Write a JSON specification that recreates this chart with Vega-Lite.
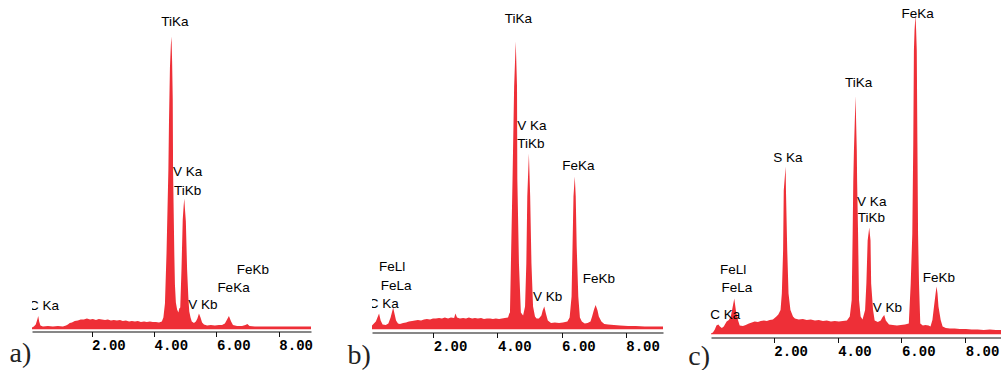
{
 "$schema": "https://vega.github.io/schema/vega-lite/v6.json",
 "padding": {"left": 9, "top": 5, "right": 0, "bottom": 0},
 "autosize": {"type": "pad"},
 "background": "white",
 "config": {
  "view": {"stroke": null},
  "axis": {"domainColor": "#111", "domainWidth": 1.2, "tickColor": "#111", "tickSize": 5, "tickWidth": 1,
   "labelFont": "Liberation Mono", "labelFontWeight": "bold", "labelFontSize": 14, "labelColor": "#000",
   "labelAlign": "left", "labelDx": -10.5, "labelBaseline": "alphabetic", "labelPadding": 13, "grid": false,
   "labelFlush": false, "labelOverlap": false,
   "titleFont": "Liberation Serif", "titleFontSize": 28, "titleFontWeight": "normal", "titleColor": "#222",
   "titleAlign": "left", "titleBaseline": "alphabetic", "titleAngle": 0},
  "text": {"font": "Liberation Sans", "fontSize": 13.5, "color": "#000", "align": "left", "baseline": "alphabetic"}
 },
 "datasets": {
  "a": [
   {"e":0.09,"c":2},{"e":0.15,"c":3},{"e":0.21,"c":5},{"e":0.26,"c":10},{"e":0.29,"c":13.5},{"e":0.32,"c":8},{"e":0.36,"c":4},{"e":0.44,"c":3},{"e":0.6,"c":3.5},{"e":0.76,"c":3},{"e":0.92,"c":3.5},{"e":1.08,"c":3},{"e":1.18,"c":4},{"e":1.24,"c":5},{"e":1.3,"c":6.5},{"e":1.37,"c":7},{"e":1.46,"c":8.5},{"e":1.56,"c":9},{"e":1.65,"c":10},{"e":1.75,"c":10},{"e":1.85,"c":11},{"e":1.95,"c":10},{"e":2.04,"c":10.5},{"e":2.14,"c":9.5},{"e":2.23,"c":10.5},{"e":2.33,"c":10},{"e":2.43,"c":9.5},{"e":2.52,"c":10},{"e":2.62,"c":9},{"e":2.71,"c":9.5},{"e":2.81,"c":9},{"e":2.91,"c":9.5},{"e":3.0,"c":8.5},{"e":3.1,"c":9},{"e":3.2,"c":8},{"e":3.29,"c":8.5},{"e":3.39,"c":8},{"e":3.48,"c":8.5},{"e":3.58,"c":7.5},{"e":3.68,"c":8},{"e":3.77,"c":7.5},{"e":3.87,"c":8},{"e":3.96,"c":7.5},{"e":4.06,"c":7.5},{"e":4.16,"c":7},{"e":4.25,"c":8},{"e":4.3,"c":12},{"e":4.35,"c":26},{"e":4.4,"c":76},{"e":4.46,"c":160},{"e":4.48,"c":209},{"e":4.51,"c":262},{"e":4.54,"c":285},{"e":4.56,"c":293},{"e":4.58,"c":268},{"e":4.6,"c":230},{"e":4.61,"c":160},{"e":4.65,"c":76},{"e":4.67,"c":45},{"e":4.7,"c":27},{"e":4.74,"c":20},{"e":4.78,"c":17},{"e":4.81,"c":21},{"e":4.84,"c":22},{"e":4.88,"c":60},{"e":4.92,"c":110},{"e":4.95,"c":124},{"e":4.97,"c":131},{"e":4.99,"c":121},{"e":5.02,"c":108},{"e":5.06,"c":60},{"e":5.1,"c":32},{"e":5.13,"c":18},{"e":5.17,"c":12},{"e":5.21,"c":8},{"e":5.28,"c":6.5},{"e":5.34,"c":8},{"e":5.39,"c":11},{"e":5.44,"c":16},{"e":5.49,"c":12},{"e":5.54,"c":7},{"e":5.6,"c":5},{"e":5.7,"c":4},{"e":5.82,"c":4.5},{"e":5.95,"c":4},{"e":6.08,"c":4.5},{"e":6.18,"c":4.5},{"e":6.27,"c":6},{"e":6.34,"c":10},{"e":6.4,"c":13.5},{"e":6.47,"c":8},{"e":6.53,"c":4.5},{"e":6.66,"c":3.5},{"e":6.82,"c":3.5},{"e":6.93,"c":4.5},{"e":6.99,"c":5.5},{"e":7.06,"c":3.5},{"e":7.23,"c":3},{"e":7.55,"c":3},{"e":7.88,"c":3},{"e":8.2,"c":3},{"e":8.52,"c":3},{"e":8.84,"c":3},{"e":9.03,"c":3}
  ],
  "b": [
   {"e":0.09,"c":4},{"e":0.15,"c":6},{"e":0.21,"c":8},{"e":0.26,"c":12},{"e":0.31,"c":16},{"e":0.36,"c":9},{"e":0.42,"c":5},{"e":0.52,"c":4.5},{"e":0.6,"c":6},{"e":0.67,"c":12},{"e":0.71,"c":17},{"e":0.75,"c":22},{"e":0.79,"c":16},{"e":0.84,"c":9},{"e":0.9,"c":6},{"e":0.96,"c":5.5},{"e":1.06,"c":6.5},{"e":1.15,"c":7},{"e":1.24,"c":8},{"e":1.34,"c":8.5},{"e":1.43,"c":9},{"e":1.52,"c":9.5},{"e":1.62,"c":9},{"e":1.71,"c":10},{"e":1.8,"c":10.5},{"e":1.9,"c":10},{"e":1.99,"c":11},{"e":2.08,"c":11},{"e":2.18,"c":11.5},{"e":2.27,"c":11},{"e":2.36,"c":12},{"e":2.46,"c":11},{"e":2.55,"c":12},{"e":2.65,"c":11.5},{"e":2.69,"c":16},{"e":2.74,"c":12},{"e":2.83,"c":11},{"e":2.93,"c":11.5},{"e":3.02,"c":11},{"e":3.11,"c":12},{"e":3.21,"c":11},{"e":3.3,"c":11.5},{"e":3.39,"c":11},{"e":3.49,"c":11.5},{"e":3.58,"c":10.5},{"e":3.67,"c":11},{"e":3.77,"c":11},{"e":3.86,"c":10.5},{"e":3.95,"c":11},{"e":4.05,"c":10.5},{"e":4.14,"c":11},{"e":4.23,"c":11.5},{"e":4.33,"c":12},{"e":4.37,"c":16},{"e":4.39,"c":17},{"e":4.42,"c":66},{"e":4.47,"c":150},{"e":4.52,"c":243},{"e":4.57,"c":288},{"e":4.61,"c":243},{"e":4.62,"c":150},{"e":4.67,"c":66},{"e":4.73,"c":17},{"e":4.8,"c":14},{"e":4.86,"c":23},{"e":4.9,"c":66},{"e":4.93,"c":133},{"e":4.98,"c":176},{"e":5.02,"c":133},{"e":5.06,"c":66},{"e":5.11,"c":23},{"e":5.17,"c":13},{"e":5.22,"c":11},{"e":5.29,"c":11},{"e":5.37,"c":14},{"e":5.41,"c":19},{"e":5.46,"c":23},{"e":5.51,"c":16},{"e":5.57,"c":9},{"e":5.67,"c":6.5},{"e":5.79,"c":7},{"e":5.92,"c":6.5},{"e":6.04,"c":7},{"e":6.18,"c":8},{"e":6.25,"c":12},{"e":6.31,"c":33},{"e":6.34,"c":83},{"e":6.37,"c":133},{"e":6.41,"c":153},{"e":6.44,"c":133},{"e":6.47,"c":83},{"e":6.52,"c":33},{"e":6.57,"c":12},{"e":6.63,"c":8},{"e":6.72,"c":6},{"e":6.81,"c":6.5},{"e":6.9,"c":8},{"e":6.95,"c":13},{"e":7.01,"c":20},{"e":7.06,"c":24.5},{"e":7.12,"c":19},{"e":7.16,"c":13},{"e":7.24,"c":8},{"e":7.33,"c":5.5},{"e":7.45,"c":5},{"e":7.63,"c":4.5},{"e":7.82,"c":4},{"e":8.07,"c":3.5},{"e":8.31,"c":3.5},{"e":8.59,"c":3},{"e":8.87,"c":3},{"e":9.16,"c":3}
  ],
  "c": [
   {"e":0.03,"c":1},{"e":0.09,"c":2},{"e":0.15,"c":5},{"e":0.2,"c":9},{"e":0.26,"c":10},{"e":0.31,"c":8},{"e":0.37,"c":6.5},{"e":0.43,"c":8},{"e":0.52,"c":13},{"e":0.59,"c":14.5},{"e":0.65,"c":18},{"e":0.7,"c":26},{"e":0.76,"c":36},{"e":0.81,"c":24},{"e":0.88,"c":14},{"e":0.93,"c":9},{"e":1.03,"c":8.5},{"e":1.12,"c":9.5},{"e":1.22,"c":11},{"e":1.31,"c":12},{"e":1.4,"c":13},{"e":1.5,"c":12.5},{"e":1.59,"c":13.5},{"e":1.69,"c":14},{"e":1.78,"c":13.5},{"e":1.87,"c":14.5},{"e":1.97,"c":15},{"e":2.08,"c":18},{"e":2.14,"c":20},{"e":2.21,"c":24.5},{"e":2.25,"c":41},{"e":2.29,"c":84},{"e":2.31,"c":144},{"e":2.37,"c":168},{"e":2.38,"c":144},{"e":2.42,"c":84},{"e":2.46,"c":41},{"e":2.52,"c":24.5},{"e":2.6,"c":18},{"e":2.66,"c":16},{"e":2.78,"c":15},{"e":2.91,"c":15.5},{"e":3.03,"c":14.5},{"e":3.16,"c":15},{"e":3.29,"c":14},{"e":3.41,"c":14.5},{"e":3.54,"c":13.5},{"e":3.66,"c":14},{"e":3.79,"c":13},{"e":3.91,"c":13.5},{"e":4.04,"c":13},{"e":4.16,"c":13.5},{"e":4.29,"c":14},{"e":4.38,"c":18},{"e":4.44,"c":34.5},{"e":4.47,"c":101},{"e":4.49,"c":154},{"e":4.51,"c":184},{"e":4.56,"c":238.5},{"e":4.6,"c":184},{"e":4.61,"c":154},{"e":4.64,"c":101},{"e":4.67,"c":34.5},{"e":4.72,"c":18},{"e":4.78,"c":15},{"e":4.86,"c":24.5},{"e":4.9,"c":51},{"e":4.94,"c":94},{"e":4.99,"c":107},{"e":5.03,"c":94},{"e":5.05,"c":51},{"e":5.11,"c":24.5},{"e":5.16,"c":14},{"e":5.26,"c":12.5},{"e":5.35,"c":14},{"e":5.4,"c":17},{"e":5.46,"c":19.5},{"e":5.51,"c":14},{"e":5.61,"c":10},{"e":5.73,"c":9.5},{"e":5.86,"c":9},{"e":5.98,"c":9.5},{"e":6.11,"c":10},{"e":6.23,"c":11},{"e":6.29,"c":51},{"e":6.34,"c":101},{"e":6.37,"c":191},{"e":6.39,"c":284},{"e":6.41,"c":304},{"e":6.44,"c":319.5},{"e":6.46,"c":304},{"e":6.48,"c":284},{"e":6.5,"c":191},{"e":6.52,"c":101},{"e":6.55,"c":51},{"e":6.59,"c":11},{"e":6.67,"c":9},{"e":6.75,"c":9.5},{"e":6.85,"c":9},{"e":6.91,"c":8},{"e":6.97,"c":14.5},{"e":7.02,"c":28},{"e":7.07,"c":41},{"e":7.1,"c":48},{"e":7.13,"c":41},{"e":7.16,"c":28},{"e":7.23,"c":14.5},{"e":7.29,"c":8},{"e":7.39,"c":6.5},{"e":7.52,"c":6},{"e":7.67,"c":6},{"e":7.83,"c":5.5},{"e":8.02,"c":5.5},{"e":8.2,"c":5},{"e":8.39,"c":5},{"e":8.58,"c":4.5},{"e":8.77,"c":5},{"e":8.96,"c":4.5},{"e":9.12,"c":4.5}
  ],
  "la": [
   {"t":"TiKa","e":4.23,"c":303.5},{"t":"V Ka","e":4.61,"c":153.8},{"t":"TiKb","e":4.64,"c":135},{"t":"FeKb","e":6.65,"c":56},{"t":"FeKa","e":6.03,"c":37.5},{"t":"V Kb","e":5.1,"c":20.5},{"t":"C Ka","e":-0.01,"c":19.5}
  ],
  "lb": [
   {"t":"TiKa","e":4.23,"c":306.2},{"t":"V Ka","e":4.62,"c":199.5},{"t":"TiKb","e":4.62,"c":181.2},{"t":"FeKa","e":6.02,"c":159.5},{"t":"FeKb","e":6.66,"c":46.8},{"t":"V Kb","e":5.11,"c":28.8},{"t":"FeLl","e":0.31,"c":58.5},{"t":"FeLa","e":0.36,"c":39.5},{"t":"C Ka","e":-0.01,"c":21.2}
  ],
  "lc": [
   {"t":"FeKa","e":6.0,"c":316.2},{"t":"TiKa","e":4.23,"c":247.2},{"t":"S Ka","e":1.98,"c":172.2},{"t":"V Ka","e":4.61,"c":128.8},{"t":"TiKb","e":4.63,"c":112.2},{"t":"FeKb","e":6.67,"c":52.8},{"t":"V Kb","e":5.1,"c":22.8},{"t":"FeLl","e":0.31,"c":60.2},{"t":"FeLa","e":0.36,"c":42.2},{"t":"C Ka","e":0.01,"c":15.2}
  ]
 },
 "spacing": 61,
 "bounds": "flush",
 "hconcat": [
  {
   "width": 279, "height": 324.5,
   "layer": [
    {"data": {"name": "a"}, "mark": {"type": "area", "color": "#ee2f37", "clip": true},
     "encoding": {
      "x": {"field": "e", "type": "quantitative", "scale": {"domain": [0.09, 9.03], "nice": false, "zero": false},
            "axis": {"values": [2, 4, 6, 8], "format": ".2f", "offset": 2, "title": "a)", "titleX": -23, "titleY": 29.5}},
      "y": {"field": "c", "type": "quantitative", "scale": {"domain": [0, 324.5], "nice": false}, "axis": null}}},
    {"data": {"name": "la"}, "mark": {"type": "text", "clip": true},
     "encoding": {"x": {"field": "e", "type": "quantitative"}, "y": {"field": "c", "type": "quantitative"}, "text": {"field": "t"}}}
   ]
  },
  {
   "spacing": 48,
   "bounds": "flush",
   "hconcat": [
    {
     "width": 291, "height": 324.5,
     "layer": [
      {"data": {"name": "b"}, "mark": {"type": "area", "color": "#ee2f37", "clip": true},
       "encoding": {
        "x": {"field": "e", "type": "quantitative", "scale": {"domain": [0.09, 9.16], "nice": false, "zero": false},
              "axis": {"values": [2, 4, 6, 8], "format": ".2f", "offset": 3, "title": "b)", "titleX": -25, "titleY": 30.8}},
        "y": {"field": "c", "type": "quantitative", "scale": {"domain": [0, 324.5], "nice": false}, "axis": null}}},
      {"data": {"name": "lb"}, "mark": {"type": "text", "clip": true},
       "encoding": {"x": {"field": "e", "type": "quantitative"}, "y": {"field": "c", "type": "quantitative"}, "text": {"field": "t"}}}
     ]
    },
    {
     "width": 290, "height": 329.5,
     "layer": [
      {"data": {"name": "c"}, "mark": {"type": "area", "color": "#ee2f37", "clip": true},
       "encoding": {
        "x": {"field": "e", "type": "quantitative", "scale": {"domain": [0.03, 9.12], "nice": false, "zero": false},
              "axis": {"values": [2, 4, 6, 8], "format": ".2f", "offset": 3, "title": "c)", "titleX": -23.3, "titleY": 26.5}},
        "y": {"field": "c", "type": "quantitative", "scale": {"domain": [0, 329.5], "nice": false}, "axis": null}}},
      {"data": {"name": "lc"}, "mark": {"type": "text"},
       "encoding": {"x": {"field": "e", "type": "quantitative"}, "y": {"field": "c", "type": "quantitative"}, "text": {"field": "t"}}}
     ]
    }
   ]
  }
 ]
}
